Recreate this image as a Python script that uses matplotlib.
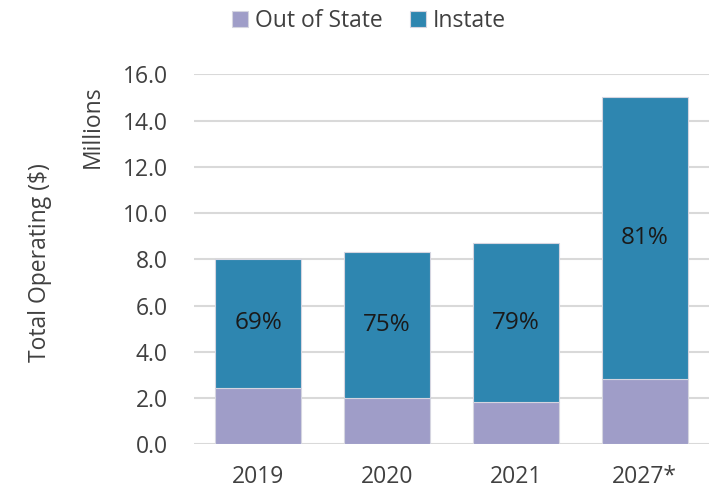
import matplotlib.pyplot as plt
import numpy as np

years = ["2019", "2020", "2021", "2027*"]
out_state = [2.45, 2.02, 1.82, 2.81]
instate = [5.57, 6.30, 6.89, 12.22]
pct_labels = ["69%", "75%", "79%", "81%"]

plt.rcParams['font.family'] = ['Open Sans', 'DejaVu Sans']

fig = plt.figure(figsize=(7.12, 4.92), dpi=100)
ax = fig.add_axes([0.2725, 0.097, 0.7233, 0.752])

x = np.arange(len(years))
ax.yaxis.grid(True, color="#d9d9d9", linewidth=1.5)
ax.set_axisbelow(True)
b1 = ax.bar(x, out_state, width=0.667, color="#9f9dc8", edgecolor="#d5d5e0",
            linewidth=0.8, label="Out of State")
b2 = ax.bar(x, instate, width=0.667, bottom=out_state, color="#2e86b0",
            edgecolor="#d5d5e0", linewidth=0.8, label="Instate")

for i, t in enumerate(pct_labels):
    ax.text(x[i], out_state[i] + instate[i] / 2, t, ha="center", va="center",
            fontsize=17.5, color="#1a1a1a")

ax.set_xlim(-0.5, 3.5)
ax.set_ylim(0, 16)
ax.set_yticks(np.arange(0, 16.1, 2))
ax.set_yticklabels([f"{v:.1f}" for v in np.arange(0, 16.1, 2)])
ax.set_xticks(x)
ax.set_xticklabels(years)
ax.tick_params(axis="both", length=0, labelsize=16.5, colors="#404040")
ax.tick_params(axis="y", pad=19)
ax.tick_params(axis="x", pad=15)
for s in ax.spines.values():
    s.set_visible(False)

fig.text(0.056, 0.467, "Total Operating ($)", rotation=90, ha="center", va="center",
         fontsize=16.5, color="#404040")
fig.text(0.13, 0.742, "Millions", rotation=90, ha="center", va="center",
         fontsize=16.5, color="#404040")

fig.legend(handles=[b1, b2], loc="center", bbox_to_anchor=(0.518, 0.957), ncol=2,
           frameon=False, fontsize=16.5, handlelength=0.7, handleheight=0.7,
           handletextpad=0.3, columnspacing=1.2, labelcolor="#404040")

plt.savefig("out.png", dpi=100)
